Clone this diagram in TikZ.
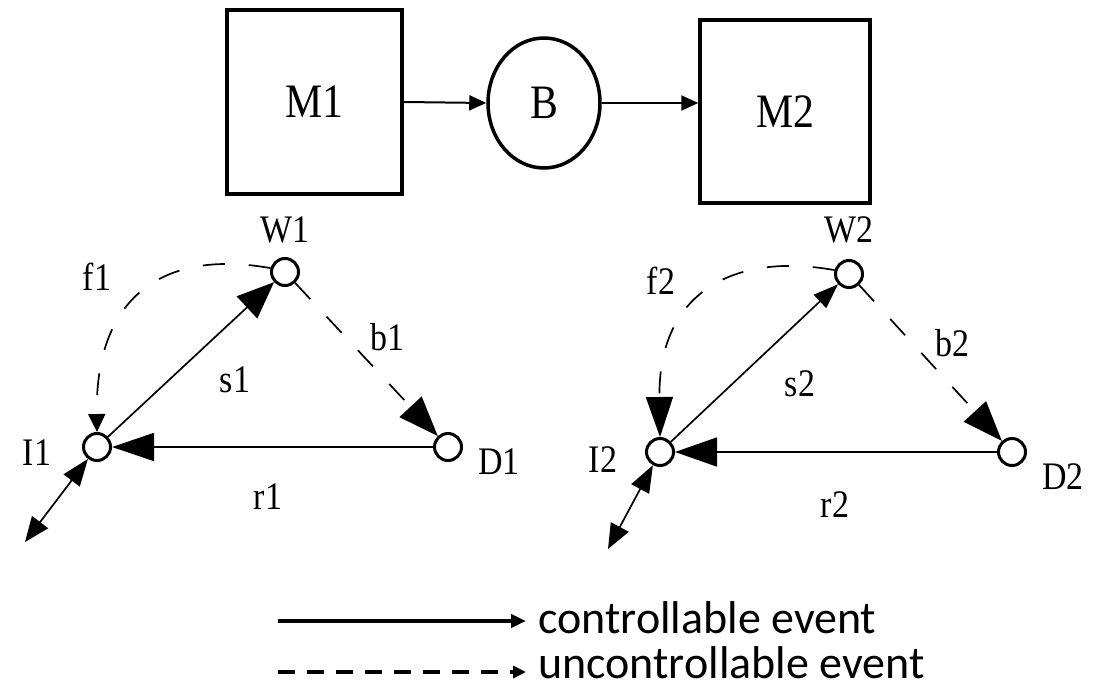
\documentclass[tikz,border=0pt]{standalone}
\usepackage{fontspec}
\setmainfont{Liberation Serif}
\newfontfamily\lblfont[FakeStretch=0.87]{Liberation Serif}
\newfontfamily\legfont{Carlito}
\usetikzlibrary{arrows.meta,shapes.geometric}
\begin{document}
\begin{tikzpicture}[x=1pt,y=-1pt,
  mbox/.style={draw, line width=3.5pt, inner sep=0pt, font=\lblfont\fontsize{48}{50}\selectfont},
  buf/.style={draw, ellipse, line width=3.5pt, inner sep=0pt, minimum width=112pt, minimum height=130pt, font=\lblfont\fontsize{48}{50}\selectfont},
  st/.style={draw, circle, line width=3pt, minimum size=27pt, inner sep=0pt},
  lbl/.style={inner sep=0pt, font=\lblfont\fontsize{39}{42}\selectfont},
  arr/.style={line width=1.7pt},
  dsh/.style={line width=1.7pt, dash pattern=on 22pt off 24pt},
  legtxt/.style={anchor=base west, inner sep=0pt, font=\legfont\fontsize{46}{48}\selectfont}
]
\useasboundingbox (0,0) rectangle (1099,690);

% top row
\node[mbox, minimum width=175pt, minimum height=184pt] (M1) at (314.5,102) {M1};
\node[buf] (B) at (544,103) {\raisebox{-6pt}{B}};
\node[mbox, minimum width=170pt, minimum height=183pt] (M2) at (785,111.5) {M2};
\draw[line width=2pt, -{Triangle[length=17pt,width=15pt]}] (M1.east) -- (B.west);
\draw[line width=2pt, -{Triangle[length=17pt,width=15pt]}] (B.east) -- (B.east -| M2.west);

% left automaton
\node[st] (W1) at (285,272) {};
\node[st] (I1) at (97,447) {};
\node[st] (D1) at (448,447) {};
\coordinate (E1) at (25,542);
\draw[arr, -{Triangle[length=37pt,width=30pt]}] (I1) -- (W1);
\draw[arr, -{Triangle[length=42pt,width=28pt]}] (D1) -- (I1);
\draw[dsh, -{Triangle[length=40pt,width=30pt]}] (W1) -- (D1);
\draw[dsh, -{Triangle[length=18pt,width=17pt]}] (W1.165) .. controls (170,250) and (95,290) .. (I1.north);
\draw[arr, {Triangle[length=27pt,width=20pt]}-{Triangle[length=25pt,width=20pt]}] (I1) -- (E1);
\node[lbl] (lW1) at (285,230) {W1};
\node[lbl] (lf1) at (97,277) {f1};
\node[lbl] (lb1) at (387,337) {b1};
\node[lbl] (ls1) at (235,380) {s1};
\node[lbl] (lr1) at (268,497) {r1};
\node[lbl] (lI1) at (37,453) {I1};
\node[lbl] (lD1) at (499,462) {D1};

% right automaton
\node[st] (W2) at (849,274) {};
\node[st] (I2) at (660,452) {};
\node[st] (D2) at (1012,452) {};
\coordinate (E2) at (608,549);
\draw[arr, -{Triangle[length=25pt,width=18pt]}] (I2) -- (W2);
\draw[arr, -{Triangle[length=42pt,width=29pt]}] (D2) -- (I2);
\draw[dsh, -{Triangle[length=40pt,width=30pt]}] (W2) -- (D2);
\draw[dsh, -{Triangle[length=40pt,width=27pt]}] (W2.165) .. controls (734,252) and (658,292) .. (I2.north);
\draw[arr, {Triangle[length=27pt,width=20pt]}-{Triangle[length=25pt,width=20pt]}] (I2) -- (E2);
\node[lbl] (lW2) at (849,230) {W2};
\node[lbl] (lf2) at (661,281) {f2};
\node[lbl] (lb2) at (952,343) {b2};
\node[lbl] (ls2) at (800,384) {s2};
\node[lbl] (lr2) at (835,505) {r2};
\node[lbl] (lI2) at (603,460) {I2};
\node[lbl] (lD2) at (1063,477) {D2};

% legend
\coordinate (La) at (278,621);
\coordinate (Lb) at (526,621);
\coordinate (Lc) at (278,672);
\coordinate (Ld) at (526,672);
\draw[line width=4pt, -{Triangle[length=15pt,width=13pt]}] (La) -- (Lb);
\draw[line width=4pt, dash pattern=on 17pt off 12pt, -{Triangle[length=13pt,width=12pt]}] (Lc) -- (Ld);
\node[legtxt] (t1) at (538,633) {controllable event};
\node[legtxt] (t2) at (538,678) {uncontrollable event};
\end{tikzpicture}
\end{document}
